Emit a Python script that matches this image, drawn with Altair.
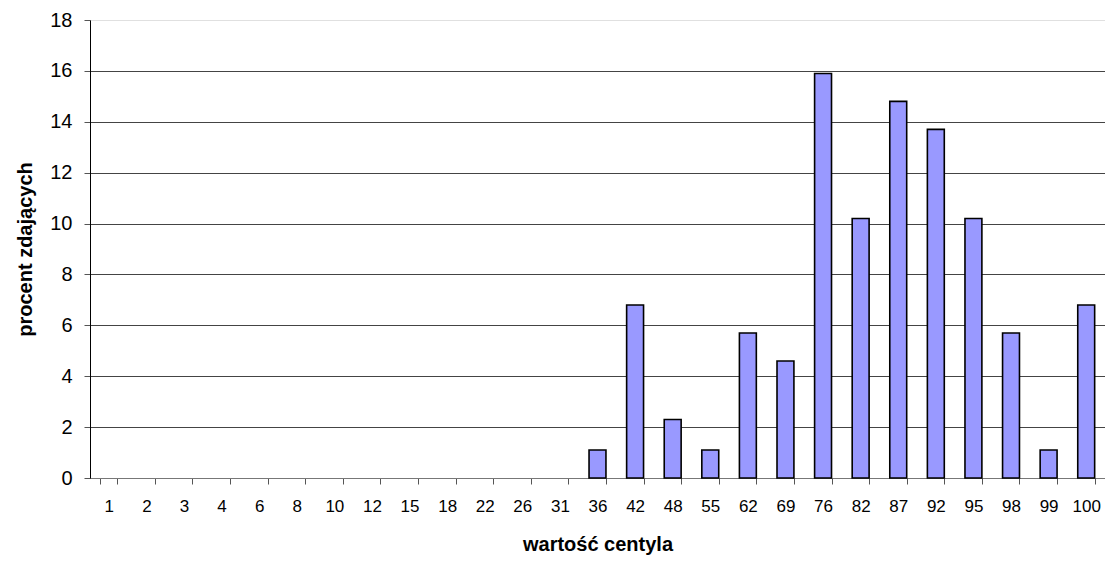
import altair as alt
import pandas as pd

categories = ["1", "2", "3", "4", "6", "8", "10", "12", "15", "18", "22", "26", "31",
              "36", "42", "48", "55", "62", "69", "76", "82", "87", "92", "95", "98", "99", "100"]
values = [0, 0, 0, 0, 0, 0, 0, 0, 0, 0, 0, 0, 0,
          1.1, 6.8, 2.3, 1.1, 5.7, 4.6, 15.9, 10.2, 14.8, 13.7, 10.2, 5.7, 1.1, 6.8]
y_ticks = [0, 2, 4, 6, 8, 10, 12, 14, 16, 18]

df = pd.DataFrame({"centyl": categories, "procent": values})

font = "Liberation Sans"

chart = alt.Chart(df).transform_filter(
    "datum.procent > 0"
).mark_bar(
    color="#9999FF", stroke="black", strokeWidth=1.6
).encode(
    x=alt.X("centyl:N", sort=categories,
            scale=alt.Scale(domain=categories, paddingInner=0.55, paddingOuter=0.275),
            axis=alt.Axis(title="wartość centyla", labelAngle=0, tickBand="extent",
                          labelFontSize=17, labelFont=font, labelColor="black",
                          labelPadding=14, tickSize=6, tickColor="#555",
                          domainColor="#777", titleFont=font, titleFontSize=20,
                          titleFontWeight="bold", titleColor="black", titlePadding=20,
                          grid=False)),
    y=alt.Y("procent:Q", scale=alt.Scale(domain=[0, 18], nice=False),
            axis=alt.Axis(title="procent zdających", values=y_ticks, format="d",
                          labelFontSize=20, labelFont=font, labelColor="black",
                          labelPadding=12, tickSize=6, tickColor="#555",
                          domainColor="black", titleFont=font, titleFontSize=20,
                          titleFontWeight="bold", titleColor="black", titlePadding=14,
                          grid=True,
                          gridColor={"condition": {"test": "datum.value == 18", "value": "#e0e0e0"},
                                     "value": "#444"},
                          gridWidth=1.2)),
).properties(
    width=1015, height=458,
    autosize=alt.AutoSizeParams(type="none"),
    padding={"left": 82, "top": 12, "right": 0, "bottom": 80},
).configure_view(stroke=None).configure(background="white")

chart.save("out.html", embed_options={"renderer": "svg", "actions": False})
